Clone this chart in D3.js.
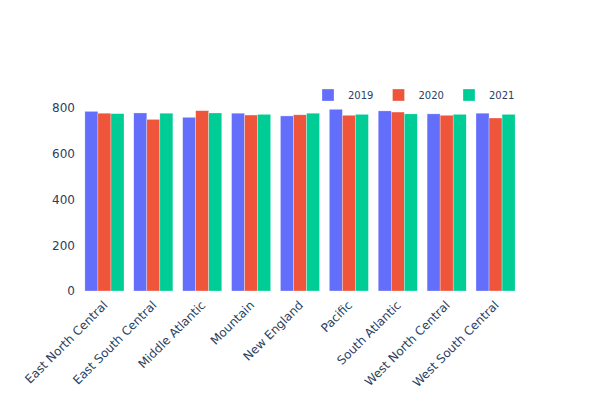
<!DOCTYPE html>
<html><head><meta charset="utf-8">
<script src="https://cdn.jsdelivr.net/npm/d3@7"></script>
<style>body{margin:0;background:#fff;} text{font-family:"DejaVu Sans",sans-serif;}</style>
</head><body><svg id="c" width="600" height="400"></svg>
<script>
const categories = ["East North Central","East South Central","Middle Atlantic","Mountain","New England","Pacific","South Atlantic","West North Central","West South Central"];
const years = ["2019","2020","2021"];
const v2019 = [784, 777, 758, 776, 764, 793, 786, 773, 776];
const v2020 = [776, 749, 787, 768, 769, 767, 781, 767, 755];
const v2021 = [774, 776, 777, 771, 776, 771, 773, 771, 771];
const yTicks = [0, 200, 400, 600, 800];
const colors = ["#636efa", "#EF553B", "#00cc96"];

const series = [v2019, v2020, v2021];
const svg = d3.select("#c");
const m = {l: 80, r: 80, t: 100, b: 109};
const W = 600, H = 400;
const x0 = d3.scaleBand().domain(categories).range([m.l, W - m.r]).paddingInner(0.2).paddingOuter(0.1);
const x1 = d3.scaleBand().domain(years).range([0, x0.bandwidth()]);
const y = d3.scaleLinear().domain([0, 833.6]).range([H - m.b, m.t]);

// bars
categories.forEach((c, i) => {
  years.forEach((yr, j) => {
    const v = series[j][i];
    svg.append("rect")
      .attr("x", x0(c) + x1(yr))
      .attr("y", y(v))
      .attr("width", x1.bandwidth())
      .attr("height", y(0) - y(v))
      .attr("fill", colors[j])
      .attr("stroke", "rgba(255,255,255,0.6)")
      .attr("stroke-width", 0.5);
  });
});

// y axis
const yAxis = d3.axisLeft(y).tickValues(yTicks).tickSize(0).tickPadding(3);
const gy = svg.append("g").attr("transform", `translate(${m.l},0)`).call(yAxis);
gy.select(".domain").remove();
gy.selectAll("text").attr("fill", "#2a3f5f").style("font-size", "12px").attr("dx", "-2");

// x axis
const xAxis = d3.axisBottom(x0).tickSize(0).tickPadding(0);
const gx = svg.append("g").attr("transform", `translate(0,${H - m.b})`).call(xAxis);
gx.select(".domain").remove();
gx.selectAll("text")
  .attr("fill", "#2a3f5f").style("font-size", "12px")
  .attr("text-anchor", "end")
  .attr("y", 0)
  .attr("dy", "0.35em")
  .attr("transform", "translate(1,12) rotate(-45)");

// legend
const legX = [322, 392.5, 463];
years.forEach((yr, j) => {
  const g = svg.append("g").attr("transform", `translate(${legX[j]},89)`);
  g.append("rect").attr("width", 12).attr("height", 12).attr("fill", colors[j])
    .attr("stroke", "rgba(255,255,255,0.6)").attr("stroke-width", 0.5);
  g.append("text").attr("x", 26).attr("y", 6).attr("dy", "0.35em")
    .attr("fill", "#2a3f5f").style("font-size", "10px").text(yr);
});
</script></body></html>
